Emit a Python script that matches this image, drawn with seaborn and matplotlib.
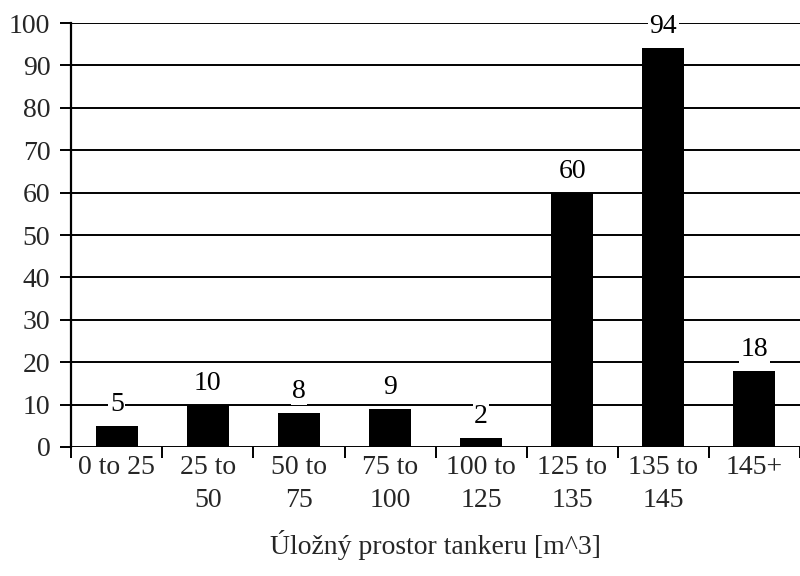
import matplotlib
matplotlib.use("Agg")
import matplotlib.pyplot as plt
import seaborn as sns
import pandas as pd
import numpy as np

categories = ["0 to 25", "25 to\n50", "50 to\n75", "75 to\n100", "100 to\n125",
              "125 to\n135", "135 to\n145", "145+"]
counts = [5, 10, 8, 9, 2, 60, 94, 18]
y_ticks = [0, 10, 20, 30, 40, 50, 60, 70, 80, 90, 100]
x_title = "Úložný prostor tankeru [m^3]"

sns.set_style("white")
plt.rcParams["font.family"] = ["Liberation Serif", "DejaVu Serif"]

df = pd.DataFrame({"cat": categories, "n": counts})

fig = plt.figure(figsize=(8, 5.76), dpi=100)
ax = fig.add_axes([0.089, 0.224, 0.911, 0.736])

sns.barplot(data=df, x="cat", y="n", color="black", width=0.46,
            saturation=1, ax=ax, zorder=3, linewidth=0, edgecolor="black")

# horizontal grid in black
for v in y_ticks:
    ax.axhline(v, color="black", lw=1.4, zorder=1)

ax.set_ylim(0, 100)
ax.set_xlim(-0.5, 7.5 - 7 / 92)
ax.set_yticks(y_ticks)
ax.set_yticklabels([str(v) for v in y_ticks])
ax.tick_params(axis="y", length=8, width=1.4, color="black", labelsize=20, pad=7, direction="out", left=True)
ax.set_xticks(np.arange(len(categories)))
ax.set_xticklabels(categories, linespacing=1.4)
ax.tick_params(axis="x", length=0, labelsize=20, pad=6)
# boundary tick marks between categories
ax.set_xticks(np.arange(-0.5, len(categories), 1.0), minor=True)
ax.tick_params(axis="x", which="minor", length=8, width=1.4, color="black", direction="out", bottom=True)

for s in ["top", "right", "bottom"]:
    ax.spines[s].set_visible(False)
ax.spines["left"].set_color("black")
ax.spines["left"].set_linewidth(1.6)

ax.set_xlabel(x_title, fontsize=20, labelpad=12)
ax.set_ylabel("")

for i, v in enumerate(counts):
    ax.annotate(str(v), (i, v), xytext=(0, 6.5), textcoords="offset points",
                ha="center", va="bottom", fontsize=20, color="black",
                bbox=dict(boxstyle="square,pad=0.05", fc="white", ec="none"),
                zorder=5)

fig.savefig("out.png", dpi=100)
